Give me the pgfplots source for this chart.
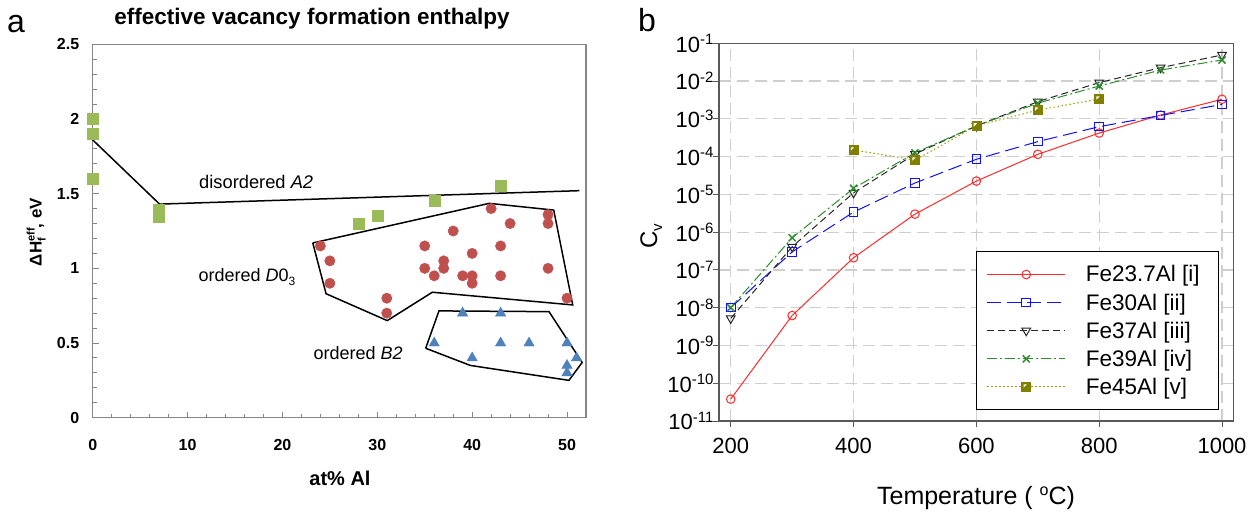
\documentclass[border=0pt]{standalone}
\usepackage{fontspec}
\setmainfont{Liberation Sans}
\usepackage{pgfplots}
\pgfplotsset{compat=1.18}
\newcommand\fs[1]{\fontsize{#1}{#1}\selectfont}
\newcommand\sups[1]{\raisebox{7.5pt}{\fs{15}#1}}
\definecolor{xgreen}{HTML}{9BBB59}
\definecolor{xred}{HTML}{C0504D}
\definecolor{xblue}{HTML}{4F81BD}
\definecolor{frameL}{HTML}{868686}
\definecolor{frameR}{HTML}{595959}
\definecolor{gridc}{HTML}{CFCFCF}
\definecolor{cred}{HTML}{FF2A2A}
\definecolor{cblue}{HTML}{1010FF}
\definecolor{cgreen}{HTML}{2E8B2E}
\definecolor{colive}{HTML}{807F00}
\definecolor{colivel}{HTML}{A0A000}
\pgfdeclareplotmark{halfsq}{%
  \pgfpathrectangle{\pgfqpoint{-\pgfplotmarksize}{-\pgfplotmarksize}}{\pgfqpoint{2\pgfplotmarksize}{2\pgfplotmarksize}}%
  \pgfusepathqfillstroke
  \begin{pgfscope}%
  \pgfsetfillcolor{white}%
  \pgfpathmoveto{\pgfqpoint{-0.6\pgfplotmarksize}{0.6\pgfplotmarksize}}%
  \pgfpathlineto{\pgfqpoint{0.15\pgfplotmarksize}{0.6\pgfplotmarksize}}%
  \pgfpathlineto{\pgfqpoint{-0.6\pgfplotmarksize}{-0.15\pgfplotmarksize}}%
  \pgfpathclose
  \pgfusepathqfill
  \end{pgfscope}%
}
\begin{document}
\begin{tikzpicture}
\useasboundingbox (0pt,0pt) rectangle (1260pt,519pt);
\node[font=\fs{32}, anchor=base, inner sep=0] at (16pt,486pt) {a};
\node[font=\fs{32}, anchor=base, inner sep=0] at (647pt,487pt) {b};
\node[font=\bfseries\fs{22.5}, anchor=base, inner sep=0] at (312pt,494pt) {effective vacancy formation enthalpy};

% ---------------- left panel ----------------
\begin{axis}[at={(92.7pt,101.3pt)}, anchor=south west, scale only axis,
  width=493.3pt, height=373.4pt,
  xmin=0, xmax=52, ymin=0, ymax=2.5,
  axis line style={frameL, line width=1.3pt},
  tick style={frameL, line width=1pt},
  tick align=inside, tick pos=left,
  xtick={0,10,20,30,40,50}, xticklabels={0,10,20,30,40,50},
  ytick={0,0.5,1,1.5,2,2.5}, yticklabels={0,0.5,1,1.5,2,2.5},
  minor x tick num=4, minor y tick num=4,
  major tick length=6pt, minor tick length=4pt,
  ticklabel style={font=\bfseries\fs{16}},
  xticklabel style={yshift=-18pt},
  yticklabel style={xshift=-10pt},
  clip=false]
\addplot[black, line width=1.5pt] coordinates {(0,1.86)(7.05,1.43)(51.3,1.52)};
\addplot[black, line width=1.5pt] coordinates {(23.2,1.17)(24.6,0.83)(31.05,0.65)(35.8,0.84)(50.6,0.755)(48.6,1.39)(41.8,1.435)(23.2,1.17)};
\addplot[black, line width=1.5pt] coordinates {(35.1,0.465)(36.5,0.715)(48.1,0.71)(51.6,0.37)(50.2,0.25)(39.8,0.35)(35.1,0.465)};
\addplot[only marks, mark=square*, mark size=5.5pt, mark options={fill=xgreen, draw=xgreen}] coordinates {
(0,2.0)(0,1.9)(0,1.6)(7,1.394)(7,1.349)(28,1.30)(30,1.35)(36,1.45)(43,1.55)};
\addplot[only marks, mark=*, mark size=5.2pt, mark options={fill=xred, draw=xred}] coordinates {
(24,1.15)(25,1.05)(25,0.90)(31,0.80)(31,0.70)(35,1.15)(35,1.00)(36,0.95)(37,1.05)(37,1.00)
(38,1.25)(39,0.95)(40,1.10)(40,0.95)(40,0.90)(42,1.40)(43,1.15)(43,0.95)(44,1.30)
(48,1.36)(48,1.30)(48,1.00)(50,0.80)};
\addplot[only marks, mark=triangle*, mark size=6pt, mark options={fill=xblue, draw=xblue}] coordinates {
(36,0.50)(39,0.70)(40,0.40)(43,0.70)(43,0.50)(46,0.50)(50,0.50)(51,0.40)(50,0.35)(50,0.30)};
\end{axis}
\node[anchor=base west, font=\fs{18.3}, inner sep=0] at (199pt,330.7pt) {disordered \textit{A2}};
\node[anchor=base west, font=\fs{18}, inner sep=0] at (198.3pt,237.3pt) {ordered \textit{D}0\raisebox{-4pt}{\fs{12}3}};
\node[anchor=base west, font=\fs{18}, inner sep=0] at (313.3pt,159.7pt) {ordered \textit{B2}};
\node[anchor=base, font=\bfseries\fs{20}, inner sep=0] at (340pt,33.7pt) {at\% Al};
\node[rotate=90, anchor=base, font=\bfseries\fs{17}, inner sep=0] at (41.7pt,287pt) {ΔH\rlap{\raisebox{-4pt}{\fs{11}f}}\raisebox{7pt}{\fs{11}eff}, eV};

% ---------------- right panel ----------------
\begin{axis}[at={(719pt,98pt)}, anchor=south west, scale only axis,
  width=514.3pt, height=377.7pt,
  ymode=log, xmin=180.9, xmax=1018.4, ymin=1e-11, ymax=1e-1,
  xtick={200,400,600,800,1000}, xticklabels={200,400,600,800,1000},
  ytick={1e-11,1e-10,1e-9,1e-8,1e-7,1e-6,1e-5,1e-4,1e-3,1e-2,1e-1},
  yticklabels={10\sups{-11},10\sups{-10},10\sups{-9},10\sups{-8},10\sups{-7},10\sups{-6},10\sups{-5},10\sups{-4},10\sups{-3},10\sups{-2},10\sups{-1}},
  yminorticks=false, xminorticks=false,
  grid=major, grid style={gridc, line width=1.3pt, dash pattern=on 12pt off 6pt},
  axis line style={frameR, line width=1.3pt},
  tick style={frameR, line width=1pt},
  tick align=outside, tick pos=left, major tick length=6pt,
  ticklabel style={font=\fs{22}},
  xticklabel style={yshift=-8pt},
  yticklabel style={xshift=4pt},
  legend style={at={(0.5,0.45)}, anchor=north west, line width=1.2pt,
    inner xsep=10pt, inner ysep=14pt, font=\fs{22.5}, row sep=10.3pt, column sep=20pt,
    nodes={inner sep=0pt}},
  legend cell align=left,
  legend image code/.code={\draw[mark repeat=2,mark phase=2] plot coordinates {(0pt,0pt)(39pt,0pt)(78pt,0pt)};}]
\addplot[cred, line width=1pt, mark=o, mark size=4.3pt, mark options={solid, line width=1pt}] coordinates {
(200,3.8e-11)(300,6.2e-9)(400,2.1e-7)(500,3.0e-6)(600,2.25e-5)(700,1.15e-4)(800,4.2e-4)(900,1.26e-3)(1000,3.3e-3)};
\addlegendentry{Fe23.7Al [i]\hspace*{9pt}}
\addplot[cblue, line width=1pt, dash pattern=on 14pt off 6pt, mark=square, mark size=4.3pt, mark options={solid, line width=1pt}] coordinates {
(200,1.0e-8)(300,3.0e-7)(400,3.4e-6)(500,2.0e-5)(600,8.5e-5)(700,2.5e-4)(800,6.2e-4)(900,1.23e-3)(1000,2.4e-3)};
\addlegendentry{Fe30Al [ii]}
\addplot[black!85, line width=1pt, dash pattern=on 7pt off 4pt, mark=triangle, mark size=5pt, mark options={solid, rotate=180, line width=1pt}] coordinates {
(200,5.2e-9)(300,4.1e-7)(400,1.1e-5)(500,1.17e-4)(600,6.5e-4)(700,2.85e-3)(800,9.1e-3)(900,2.26e-2)(1000,4.9e-2)};
\addlegendentry{Fe37Al [iii]}
\addplot[cgreen, line width=1pt, dash pattern=on 10pt off 3pt on 2pt off 3pt, mark=x, mark size=5pt, mark options={solid, line width=1.5pt}] coordinates {
(200,1.0e-8)(300,7.1e-7)(400,1.45e-5)(500,1.26e-4)(600,6.5e-4)(700,2.6e-3)(800,7.4e-3)(900,1.96e-2)(1000,3.6e-2)};
\addlegendentry{Fe39Al [iv]}
\addplot[colivel, line width=1pt, dash pattern=on 1.5pt off 2.5pt, mark=halfsq, mark size=4.5pt, mark options={solid, fill=colive, draw=colive, line width=0.6pt}] coordinates {
(400,1.5e-4)(500,8.1e-5)(600,6.5e-4)(700,1.7e-3)(800,3.35e-3)};
\addlegendentry{Fe45Al [v]}
\end{axis}
\node[anchor=base, font=\fs{25}, inner sep=0] at (976pt,14pt) {Temperature ( \raisebox{9.5pt}{\fs{16}o}C)};
\node[rotate=90, anchor=base, font=\fs{24}, inner sep=0] at (657pt,283pt) {C\raisebox{-5pt}{\fs{15}v}};
\end{tikzpicture}
\end{document}
